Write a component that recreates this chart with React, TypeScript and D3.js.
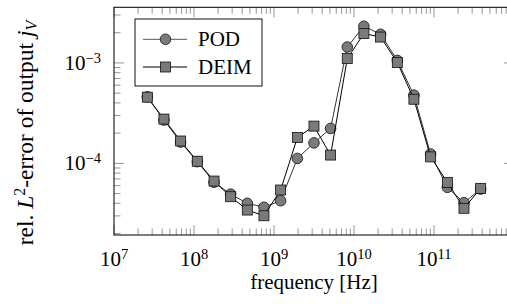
import React from "react";
import * as d3 from "d3";

const freqs = [2.61e7, 4.21e7, 6.8e7, 1.1e8, 1.78e8, 2.87e8, 4.64e8, 7.49e8, 1.21e9, 1.96e9, 3.16e9, 5.1e9, 8.24e9, 1.33e10, 2.15e10, 3.48e10, 5.61e10, 9.07e10, 1.47e11, 2.37e11, 3.83e11];
const podErr = [4.6e-4, 2.7e-4, 1.63e-4, 1.04e-4, 6.5e-5, 4.94e-5, 4.0e-5, 3.66e-5, 4.25e-5, 1.12e-4, 1.6e-4, 2.23e-4, 1.44e-3, 2.32e-3, 1.93e-3, 1.06e-3, 4.78e-4, 1.24e-4, 5.77e-5, 4.06e-5, 5.55e-5];
const deimErr = [4.56e-4, 2.76e-4, 1.67e-4, 1.05e-4, 6.67e-5, 4.66e-5, 3.43e-5, 3.01e-5, 5.43e-5, 1.81e-4, 2.35e-4, 1.21e-4, 1.106e-3, 1.96e-3, 1.81e-3, 1.01e-3, 4.35e-4, 1.16e-4, 6.47e-5, 3.57e-5, 5.64e-5];
const xTickExps = [7, 8, 9, 10, 11, 12];
const xLabelExps = [7, 8, 9, 10, 11];
const yTickExps = [-3, -4];
const seriesNames = ["POD", "DEIM"];

const W = 507, H = 304;
const L = 114, R = 514, T = 7.3, B = 235;
const FONT = "Liberation Serif";
const FS = 21;
const YFS = 23.5;
const ts: React.CSSProperties = { fontFamily: FONT };

export default function App() {
  const x = d3.scaleLog().domain([1e7, 1e12]).range([L, R]);
  const y = d3.scaleLog().domain([1.936e-5, 3.58e-3]).range([B, T]);

  const xMinor: number[] = [];
  for (let e = 7; e < 12; e++) for (let k = 2; k <= 9; k++) xMinor.push(k * Math.pow(10, e));
  const yMinor: number[] = [];
  for (let e = -5; e < -2; e++) for (let k = 2; k <= 9; k++) {
    const v = k * Math.pow(10, e);
    if (v >= 1.936e-5 && v <= 3.58e-3) yMinor.push(v);
  }

  const line = d3.line<[number, number]>().x(d => x(d[0])).y(d => y(d[1]));
  const podPts: [number, number][] = freqs.map((f, i) => [f, podErr[i]]);
  const deimPts: [number, number][] = freqs.map((f, i) => [f, deimErr[i]]);

  const tickColor = "#8a8a8a";
  const majL = 10, minL = 6.5;
  const markFill = "#7a7a7a";
  const r = 5.3, s = 5;

  return (
    <svg width={W} height={H} style={{ position: "absolute", left: 0, top: 0, background: "#fff" }}>
      <g stroke={tickColor} strokeWidth={0.9}>
        {xMinor.map((v, i) => (
          <g key={"xm" + i}>
            <line x1={x(v)} x2={x(v)} y1={B} y2={B - minL} />
            <line x1={x(v)} x2={x(v)} y1={T} y2={T + minL} />
          </g>
        ))}
        {xTickExps.map(e => (
          <g key={"xM" + e}>
            <line x1={x(Math.pow(10, e))} x2={x(Math.pow(10, e))} y1={B} y2={B - majL} />
            <line x1={x(Math.pow(10, e))} x2={x(Math.pow(10, e))} y1={T} y2={T + majL} />
          </g>
        ))}
        {yMinor.map((v, i) => (
          <g key={"ym" + i}>
            <line x1={L} x2={L + minL} y1={y(v)} y2={y(v)} />
            <line x1={R} x2={R - minL} y1={y(v)} y2={y(v)} />
          </g>
        ))}
        {yTickExps.map(e => (
          <g key={"yM" + e}>
            <line x1={L} x2={L + majL} y1={y(Math.pow(10, e))} y2={y(Math.pow(10, e))} />
            <line x1={R} x2={R - majL} y1={y(Math.pow(10, e))} y2={y(Math.pow(10, e))} />
          </g>
        ))}
      </g>
      <rect x={L} y={T} width={R - L} height={B - T} fill="none" stroke="#111" strokeWidth={1.1} />

      {xLabelExps.map(e => (
        <text key={"xl" + e} x={x(Math.pow(10, e))} y={265.5} textAnchor="middle" fontSize={FS} fill="#000" style={ts}>
          10<tspan fontSize={14.5} dy={-7}>{e}</tspan>
        </text>
      ))}
      {yTickExps.map(e => (
        <text key={"yl" + e} x={101} y={y(Math.pow(10, e)) + 7} textAnchor="end" fontSize={FS} fill="#000" style={ts}>
          10<tspan fontSize={14.5} dy={-7}>{"\u2212" + Math.abs(e)}</tspan>
        </text>
      ))}

      <text x={(L + R) / 2} y={288.5} textAnchor="middle" fontSize={FS} fill="#000" style={ts}>frequency [Hz]</text>
      <text transform={`translate(33,133) rotate(-90)`} textAnchor="middle" fontSize={YFS} fill="#000" style={ts}>
        rel. <tspan fontStyle="italic">L</tspan><tspan fontSize={16} dy={-8}>2</tspan><tspan dy={8}>-error of output </tspan>
        <tspan fontStyle="italic">j</tspan><tspan fontStyle="italic" fontSize={16} dy={4}>V</tspan>
      </text>

      <path d={line(podPts) || ""} fill="none" stroke="#333" strokeWidth={1} />
      {podPts.map((p, i) => (
        <circle key={"pc" + i} cx={x(p[0])} cy={y(p[1])} r={r} fill={markFill} stroke="#111" strokeWidth={0.8} />
      ))}
      <path d={line(deimPts) || ""} fill="none" stroke="#000" strokeWidth={1} />
      {deimPts.map((p, i) => (
        <rect key={"dr" + i} x={x(p[0]) - s} y={y(p[1]) - s} width={2 * s} height={2 * s} fill={markFill} stroke="#111" strokeWidth={0.8} />
      ))}

      <g>
        <rect x={135} y={19} width={127} height={67} fill="#fff" stroke="#111" strokeWidth={1} />
        <line x1={143} x2={187} y1={39.3} y2={39.3} stroke="#555" strokeWidth={1} />
        <circle cx={165.5} cy={39.3} r={r} fill={markFill} stroke="#111" strokeWidth={0.8} />
        <text x={198} y={45.5} fontSize={FS} fill="#000" style={ts}>{seriesNames[0]}</text>
        <line x1={143} x2={187} y1={67} y2={67} stroke="#000" strokeWidth={1} />
        <rect x={165.5 - s} y={67 - s} width={2 * s} height={2 * s} fill={markFill} stroke="#111" strokeWidth={0.8} />
        <text x={198} y={74} fontSize={FS} fill="#000" style={ts}>{seriesNames[1]}</text>
      </g>
    </svg>
  );
}
